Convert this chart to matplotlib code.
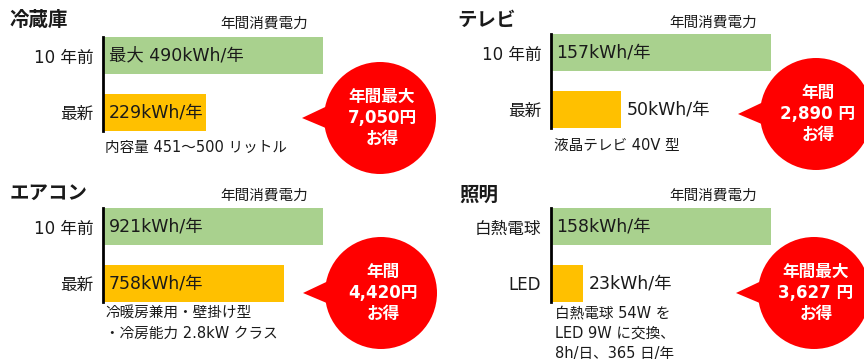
import matplotlib
matplotlib.use("Agg")
import matplotlib.pyplot as plt
from matplotlib.patches import Circle, Polygon

# 英数字は DejaVu、かなと漢字は Noto Sans CJK JP
plt.rcParams['font.family'] = ['DejaVu Sans', 'Noto Sans CJK JP']

# 家電ごとの年間消費電力（10年前 / 最新）
titles = ["冷蔵庫", "テレビ", "エアコン", "照明"]
cat_labels = [["10 年前", "最新"], ["10 年前", "最新"],
              ["10 年前", "最新"], ["白熱電球", "LED"]]
kwh_old = [490, 157, 921, 158]
kwh_new = [229, 50, 758, 23]
old_prefix = ["最大 ", "", "", ""]
saving_head = ["年間最大", "年間", "年間", "年間最大"]
saving_yen = [7050, 2890, 4420, 3627]
yen_sep = ["", " ", "", " "]
notes = ["内容量 451～500 リットル",
         "液晶テレビ 40V 型",
         "冷暖房兼用・壁掛け型\n・冷房能力 2.8kW クラス",
         "白熱電球 54W を\nLED 9W に交換、\n8h/日、365 日/年"]

GREEN = "#A9D18E"
ORANGE = "#FFC000"
RED = "#FF0000"
INK = "#1a1a1a"

W, H = 864, 359

# 各パネルの配置（ピクセル）
layout = [
    dict(ax=(103, 37, 323, 131), title=(10, 20), head=(308, 23), note=(105, 140), bubble=(380, 118)),
    dict(ax=(551, 34, 771, 128), title=(457, 20), head=(757, 22), note=(554, 138), bubble=(816, 114)),
    dict(ax=(103, 208, 323, 302), title=(10, 193), head=(308, 195), note=(105, 306), bubble=(381, 293)),
    dict(ax=(551, 208, 771, 302), title=(459, 195), head=(757, 195), note=(555, 306), bubble=(814, 293)),
]


def px_rect(x0, y0, x1, y1):
    return [x0 / W, 1 - y1 / H, (x1 - x0) / W, (y1 - y0) / H]


fig = plt.figure(figsize=(8.64, 3.59), dpi=100)

# 文字と吹き出し用の下敷き
ov = fig.add_axes([0, 0, 1, 1])
ov.set_xlim(0, W)
ov.set_ylim(H, 0)
ov.axis('off')

for i in range(4):
    lay = layout[i]
    old, new = kwh_old[i], kwh_new[i]

    ax = fig.add_axes(px_rect(*lay['ax']))
    ax.barh([0, 1], [old, new], height=0.66, color=[GREEN, ORANGE])
    ax.set_xlim(0, old)
    ax.set_ylim(1.33, -0.33)
    for s in ['top', 'right', 'bottom']:
        ax.spines[s].set_visible(False)
    ax.spines['left'].set_linewidth(2)
    ax.spines['left'].set_color('black')
    ax.set_xticks([])
    ax.set_yticks([0, 1], labels=cat_labels[i], fontsize=12, color=INK)
    ax.tick_params(axis='y', length=0, pad=7)
    ax.patch.set_alpha(0)

    labels = [f"{old_prefix[i]}{old}kWh/年", f"{new}kWh/年"]
    for j, v in enumerate([old, new]):
        if v / old >= 0.4:
            ax.annotate(labels[j], (0, j), xytext=(4, 0), textcoords='offset points',
                        va='center', ha='left', fontsize=12.5, color=INK)
        else:
            ax.annotate(labels[j], (v, j), xytext=(4, 0), textcoords='offset points',
                        va='center', ha='left', fontsize=12.5, color=INK)

    tx, ty = lay['title']
    ov.text(tx, ty, titles[i], fontsize=14, fontweight='bold', color=INK,
            ha='left', va='center')
    hx, hy = lay['head']
    ov.text(hx, hy, "年間消費電力", fontsize=10.5, color=INK, ha='right', va='center')
    nx, ny = lay['note']
    ov.text(nx, ny, notes[i], fontsize=10.5, color=INK, ha='left', va='top',
            linespacing=1.4)

    # 節約額の吹き出し
    cx, cy = lay['bubble']
    ov.add_patch(Polygon([(cx - 78, cy), (cx - 40, cy - 18), (cx - 40, cy + 16)],
                         closed=True, color=RED, lw=0))
    ov.add_patch(Circle((cx, cy), 56, color=RED, lw=0))
    msg = f"{saving_head[i]}\n{saving_yen[i]:,}{yen_sep[i]}円\nお得"
    ov.text(cx + 2, cy, msg, fontsize=12, fontweight='bold', color='white',
            ha='center', va='center', linespacing=1.2)

fig.savefig("out.png", dpi=100)
